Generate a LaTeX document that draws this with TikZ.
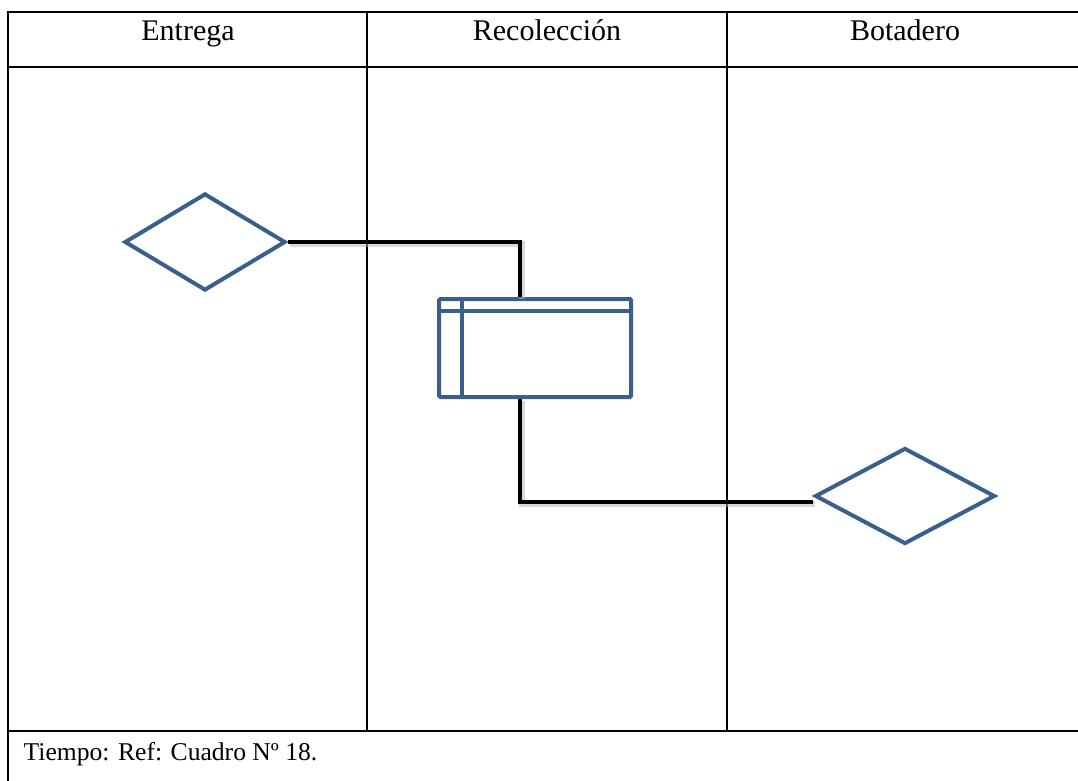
\documentclass[tikz,border=0pt]{standalone}
\usepackage{fontspec}
\setmainfont{Liberation Serif}
\usetikzlibrary{shapes.geometric}
\definecolor{flowblue}{HTML}{3A5F8D}
\tikzset{
    x=0.75pt, y=-0.75pt,
    grid/.style={line width=1.1pt, black},
    rule/.style={line width=1.6pt, black},
    decision/.style={diamond, draw=flowblue, line width=3pt, inner sep=0pt},
    process/.style={rectangle, draw=flowblue, line width=3pt, rounded corners=1pt,
        minimum width=144pt, minimum height=73.5pt, inner sep=0pt},
    link/.style={line width=3.6pt, black},
    linkshadow/.style={line width=4.4pt, black!30, opacity=0.5},
    head/.style={font=\fontsize{22.5}{26}\selectfont, anchor=base},
}

\begin{document}
\begin{tikzpicture}
\useasboundingbox (0,0) rectangle (1078,781);

% table
\draw[rule] (1078,12) -- (8,12) -- (8,781);
\draw[rule] (8,67) -- (1078,67);
\draw[rule] (8,731) -- (1078,731);
\draw[grid] (367,12) -- (367,731);
\draw[grid] (727,12) -- (727,731);

\node[head] (hEnt) at (188,41) {Entrega};
\node[head] (hRec) at (547,41) {Recolección};
\node[head] (hBot) at (905,41) {Botadero};
\node[font=\fontsize{19.2}{23}\selectfont, anchor=base west] (foot) at (19,760) {Tiempo: Ref: Cuadro Nº 18.};

% flow
\node[decision, minimum width=120.75pt, minimum height=72.75pt] (ent) at (205,242) {};
\node[process] (rec) at (535,348) {};
\node[decision, minimum width=135pt, minimum height=72pt] (bot) at (905,496) {};

\draw[flowblue, line width=3pt] ([yshift=-10.5pt]rec.north west) -- ([yshift=-10.5pt]rec.north east);
\draw[flowblue, line width=3pt] ([xshift=19pt]rec.north west) -- ([xshift=19pt]rec.south west);

\draw[linkshadow, transform canvas={xshift=1.5pt, yshift=-1.5pt}] (ent.east) -| ([xshift=-11.25pt]rec.north);
\draw[linkshadow, transform canvas={xshift=1.5pt, yshift=-1.5pt}] ([xshift=-11.25pt]rec.south) |- ([yshift=-4.5pt]bot.west);
\draw[link] (ent.east) -| ([xshift=-11.25pt]rec.north);
\draw[link] ([xshift=-11.25pt]rec.south) |- ([yshift=-4.5pt]bot.west);

\end{tikzpicture}
\end{document}
